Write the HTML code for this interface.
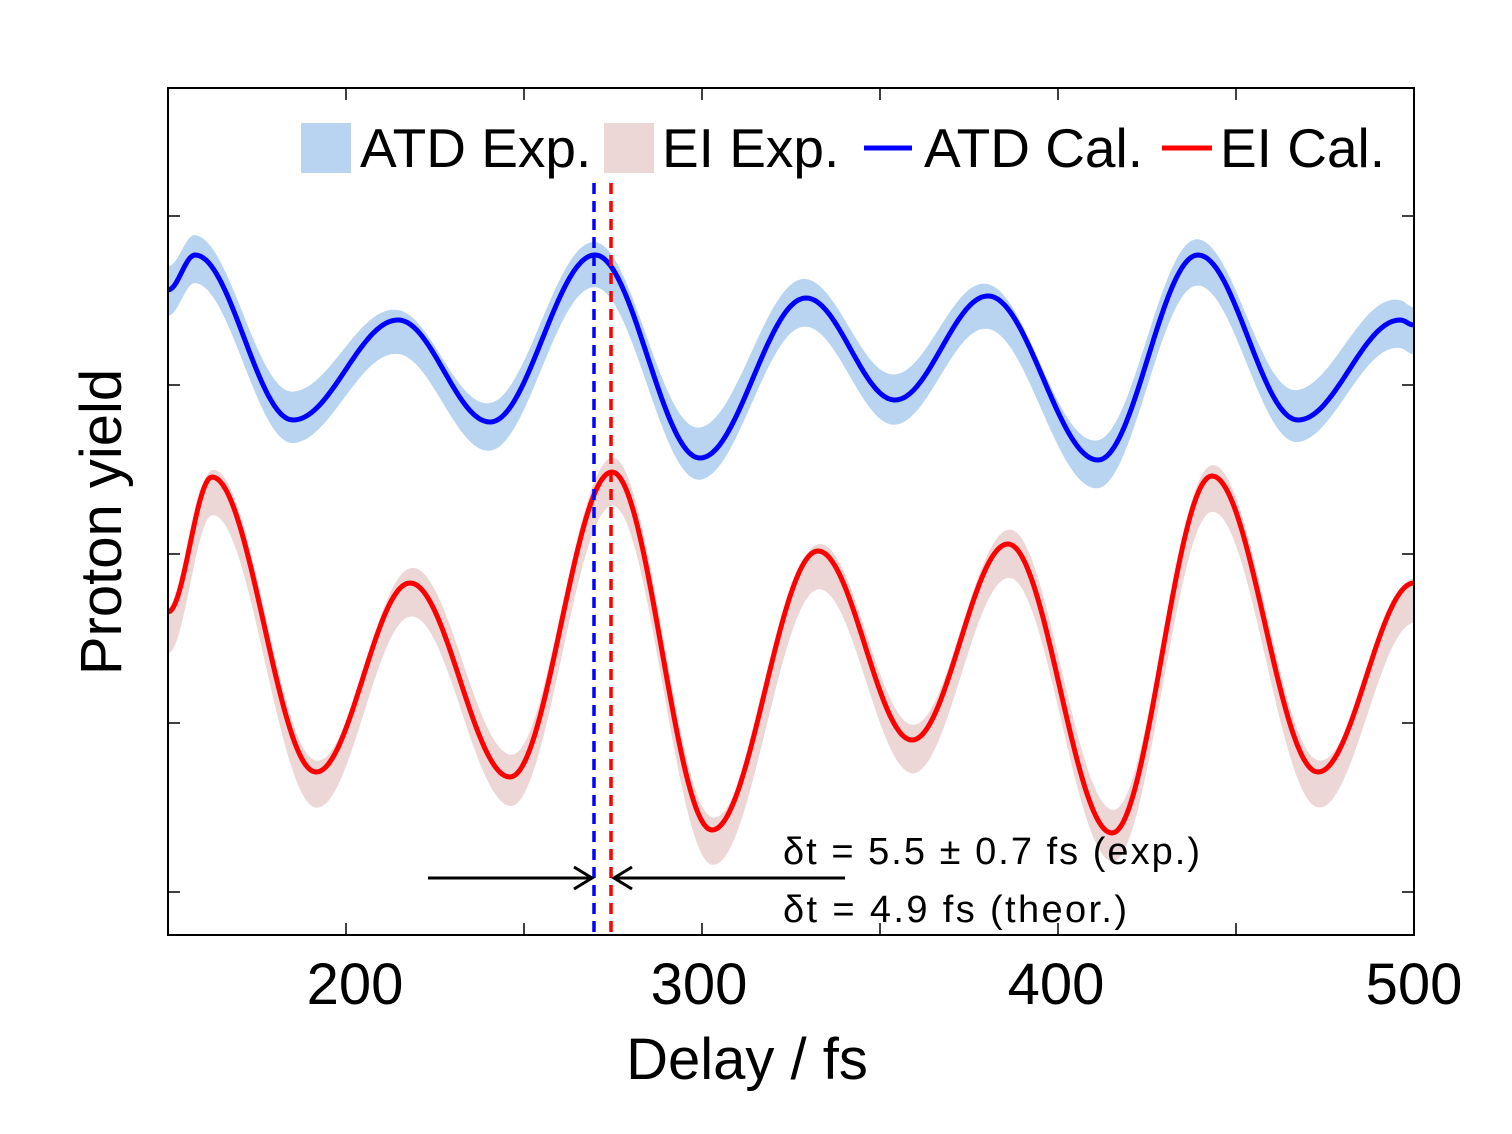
<!DOCTYPE html>
<html><head><meta charset="utf-8"><style>
body{margin:0;background:#fff;width:1512px;height:1134px;overflow:hidden}
svg{display:block}
</style></head><body>
<svg id="s" width="1512" height="1134" xmlns="http://www.w3.org/2000/svg">
<g id="bands"></g>
<g id="curves"></g>
<line x1="594" y1="183" x2="594" y2="932" stroke="#0000ff" stroke-width="3.5" stroke-dasharray="11,7"/>
<line x1="611" y1="183" x2="611" y2="932" stroke="#ff0000" stroke-width="3.5" stroke-dasharray="11,7"/>
<rect x="168" y="88" width="1246" height="847" fill="none" stroke="#000" stroke-width="2"/>
<g stroke="#000" stroke-width="1.5">
<line x1="346" y1="88" x2="346" y2="100"/><line x1="524" y1="88" x2="524" y2="100"/><line x1="702" y1="88" x2="702" y2="100"/><line x1="880" y1="88" x2="880" y2="100"/><line x1="1058" y1="88" x2="1058" y2="100"/><line x1="1236" y1="88" x2="1236" y2="100"/>
<line x1="346" y1="935" x2="346" y2="923"/><line x1="524" y1="935" x2="524" y2="923"/><line x1="702" y1="935" x2="702" y2="923"/><line x1="880" y1="935" x2="880" y2="923"/><line x1="1058" y1="935" x2="1058" y2="923"/><line x1="1236" y1="935" x2="1236" y2="923"/>
<line x1="168" y1="216" x2="180" y2="216"/><line x1="168" y1="385" x2="180" y2="385"/><line x1="168" y1="554" x2="180" y2="554"/><line x1="168" y1="723" x2="180" y2="723"/><line x1="168" y1="892" x2="180" y2="892"/>
<line x1="1414" y1="216" x2="1402" y2="216"/><line x1="1414" y1="385" x2="1402" y2="385"/><line x1="1414" y1="554" x2="1402" y2="554"/><line x1="1414" y1="723" x2="1402" y2="723"/><line x1="1414" y1="892" x2="1402" y2="892"/>
</g>
<rect x="301" y="123" width="50" height="50" fill="#b8d4f0"/>
<rect x="604" y="123" width="50" height="50" fill="#ecd6d6"/>
<line x1="864" y1="148" x2="912" y2="148" stroke="#0000ff" stroke-width="5"/>
<line x1="1162" y1="148" x2="1212" y2="148" stroke="#ff0000" stroke-width="5"/>
<g font-family="Liberation Sans, sans-serif" font-size="55" fill="#000">
<text x="360" y="167">ATD Exp.</text>
<text x="662" y="167">EI Exp.</text>
<text x="924" y="167">ATD Cal.</text>
<text x="1220" y="167">EI Cal.</text>
</g>
<g stroke="#000" stroke-width="3" fill="none">
<line x1="428" y1="878" x2="592" y2="878"/><polyline points="574,867 592,878 574,889"/>
<line x1="845" y1="878" x2="614" y2="878"/><polyline points="632,867 614,878 632,889"/>
</g>
<g font-family="Liberation Sans, DejaVu Sans, sans-serif" font-size="38" fill="#000">
<text x="783" y="864" textLength="417">δt = 5.5 ± 0.7 fs (exp.)</text>
<text x="783" y="922" textLength="344">δt = 4.9 fs (theor.)</text>
</g>
<g font-family="Liberation Sans, sans-serif" font-size="58" fill="#000" text-anchor="middle">
<text x="355" y="1004">200</text><text x="699" y="1004">300</text><text x="1056" y="1004">400</text><text x="1414" y="1004">500</text>
<text x="747" y="1079">Delay / fs</text>
<text transform="translate(121,522) rotate(-90)">Proton yield</text>
</g>
</svg>
<script>
function build(pts){
  var out=[];
  for(var i=0;i<pts.length-1;i++){
    var a=pts[i],b=pts[i+1];
    for(var x=a[0];x<b[0];x+=2){
      var t=(x-a[0])/(b[0]-a[0]);
      var f=(1-Math.cos(Math.PI*t))/2;
      out.push([x,a[1]+(b[1]-a[1])*f]);
    }
  }
  out.push(pts[pts.length-1]);
  return out;
}
function d(arr){return 'M'+arr.map(function(p){return p[0].toFixed(1)+','+p[1].toFixed(1)}).join(' L');}
var blue=[[168,290],[195,255],[293,420],[398,320],[490,422],[595,255],[700,458],[806,298],[895,400],[988,296],[1098,460],[1198,255],[1298,420],[1400,320],[1414,325]];
var red=[[168,612],[212,477],[316,772],[410,583],[510,777],[612,472],[712,830],[818,551],[912,740],[1008,544],[1112,833],[1212,476],[1318,772],[1414,583]];
function band(arr,w,shift,seed){
  var up=[],lo=[];
  for(var i=0;i<arr.length;i++){
    var x=arr[i][0],y=arr[i][1];
    var n=Math.sin(x*0.031+seed)*7+Math.sin(x*0.011+seed*2)*6;
    up.push([x,y-w+n+shift]);lo.push([x,y+w+n*0.6+shift]);
  }
  return d(up)+' L'+lo.reverse().map(function(p){return p[0].toFixed(1)+','+p[1].toFixed(1)}).join(' L')+'Z';
}
var bc=build(blue),rc=build(red);
var NS='http://www.w3.org/2000/svg';
function add(g,dd,fill,stroke,sw){var p=document.createElementNS(NS,'path');p.setAttribute('d',dd);p.setAttribute('fill',fill);if(stroke){p.setAttribute('stroke',stroke);p.setAttribute('stroke-width',sw);p.setAttribute('stroke-linejoin','round');}document.getElementById(g).appendChild(p);}
add('bands',band(bc,24,4,1.3),'#b8d4f0');
add('bands',band(rc,24,10,2.7),'#ecd6d6');
add('curves',d(bc),'none','#0000ff',5);
add('curves',d(rc),'none','#ff0000',5);
</script>
</body></html>
